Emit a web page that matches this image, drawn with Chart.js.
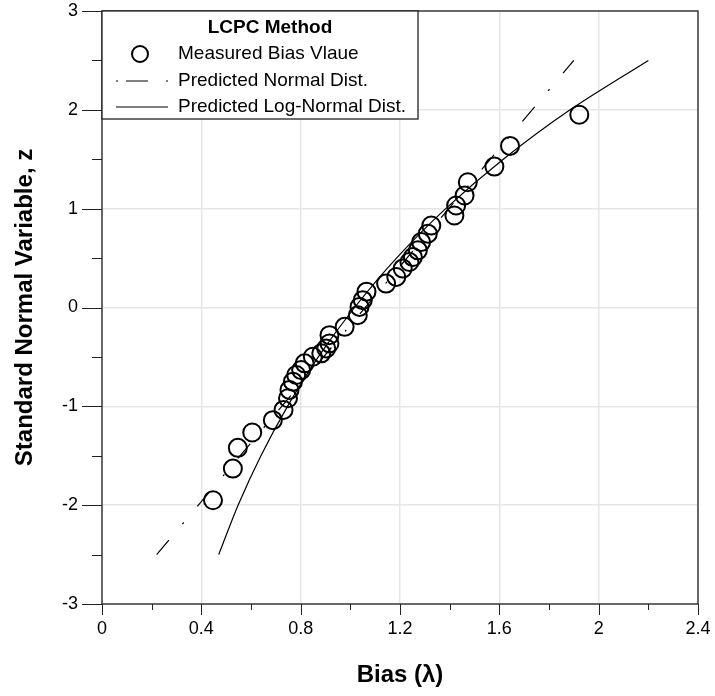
<!DOCTYPE html>
<html>
<head>
  <meta charset="utf-8">
  <title>LCPC Method - bias probability plot</title>
  <script src="https://cdn.jsdelivr.net/npm/chart.js@4.4.1/dist/chart.umd.min.js"></script>
  <style>
    html, body { margin: 0; padding: 0; background: #fff; }
    #wrap { width: 715px; height: 696px; }
  </style>
</head>
<body>
<div id="wrap"><canvas id="myChart" width="715" height="696"></canvas></div>
<script>
// measured bias values (lambda) and their standard normal variable z
const biasX = [0.447, 0.527, 0.547, 0.605, 0.688, 0.731, 0.749, 0.755, 0.769, 0.782,
  0.802, 0.816, 0.849, 0.883, 0.903, 0.916, 0.916, 0.977, 1.03, 1.037,
  1.05, 1.065, 1.144, 1.185, 1.211, 1.238, 1.252, 1.272, 1.285, 1.312,
  1.326, 1.419, 1.426, 1.46, 1.473, 1.58, 1.643, 1.922];
const biasZ = [-1.95, -1.63, -1.42, -1.265, -1.14, -1.036, -0.918, -0.834, -0.75, -0.683,
  -0.633, -0.565, -0.498, -0.464, -0.414, -0.363, -0.28, -0.196, -0.078, 0.006,
  0.074, 0.16, 0.242, 0.309, 0.394, 0.46, 0.51, 0.578, 0.662, 0.747,
  0.83, 0.931, 1.032, 1.133, 1.267, 1.426, 1.635, 1.95];

// predicted normal distribution (straight line)
const normX = [0.22, 1.9];
const normZ = [-2.5, 2.5];

// predicted log-normal distribution (curve)
const logX = [0.47, 0.548, 0.64, 0.747, 0.871, 1.017, 1.186, 1.384, 1.616, 1.885, 2.2];
const logZ = [-2.5, -2, -1.5, -1, -0.5, 0, 0.5, 1, 1.5, 2, 2.5];

const xTickLabels = ['0', '0.4', '0.8', '1.2', '1.6', '2', '2.4'];
const yTickLabels = ['-3', '-2', '-1', '0', '1', '2', '3'];

const legendTitle = 'LCPC Method';
const legendNames = ['Measured Bias Vlaue', 'Predicted Normal Dist.', 'Predicted Log-Normal Dist.'];

const FONT = "'Liberation Sans', Arial, Helvetica, sans-serif";

function pairs(xs, ys) {
  return xs.map((v, i) => ({ x: v, y: ys[i] }));
}
function isMajorX(v) { return Math.abs(v / 0.4 - Math.round(v / 0.4)) < 1e-6; }
function isMajorY(v) { return Math.abs(v - Math.round(v)) < 1e-6; }

// frame, outside tick marks (major + minor) and the boxed legend
const extras = {
  id: 'extras',
  afterDraw(chart) {
    const { ctx, chartArea: a, scales: { x, y } } = chart;
    ctx.save();
    ctx.strokeStyle = '#222';
    ctx.lineWidth = 1.3;
    ctx.strokeRect(a.left, a.top, a.right - a.left, a.bottom - a.top);

    ctx.beginPath();
    x.ticks.forEach(t => {
      const px = Math.round(x.getPixelForValue(t.value)) + 0.5;
      const len = isMajorX(t.value) ? 11 : 6;
      ctx.moveTo(px, a.bottom);
      ctx.lineTo(px, a.bottom + len);
    });
    y.ticks.forEach(t => {
      const py = Math.round(y.getPixelForValue(t.value)) + 0.5;
      const len = isMajorY(t.value) ? 20 : 10;
      ctx.moveTo(a.left, py);
      ctx.lineTo(a.left - len, py);
    });
    ctx.lineWidth = 1;
    ctx.stroke();

    // legend box
    const lx = a.left, ly = a.top, lw = 316, lh = 108;
    ctx.fillStyle = '#fff';
    ctx.fillRect(lx, ly, lw, lh);
    ctx.strokeStyle = '#222';
    ctx.lineWidth = 1.3;
    ctx.strokeRect(lx, ly, lw, lh);

    ctx.fillStyle = '#000';
    ctx.textBaseline = 'middle';
    ctx.textAlign = 'center';
    ctx.font = 'bold 19px ' + FONT;
    ctx.fillText(legendTitle, lx + 168, ly + 17);

    ctx.textAlign = 'left';
    ctx.font = '19px ' + FONT;
    const rows = [ly + 43, ly + 70, ly + 96];
    legendNames.forEach((n, i) => ctx.fillText(n, lx + 76, rows[i]));

    // symbols
    ctx.strokeStyle = '#000';
    ctx.lineWidth = 2;
    ctx.beginPath();
    ctx.arc(lx + 38, rows[0], 8, 0, Math.PI * 2);
    ctx.stroke();

    ctx.lineWidth = 1.2;
    ctx.beginPath();
    ctx.moveTo(lx + 14, rows[1]); ctx.lineTo(lx + 16, rows[1]);
    ctx.moveTo(lx + 24, rows[1]); ctx.lineTo(lx + 46, rows[1]);
    ctx.moveTo(lx + 64, rows[1]); ctx.lineTo(lx + 66, rows[1]);
    ctx.moveTo(lx + 14, rows[2]); ctx.lineTo(lx + 66, rows[2]);
    ctx.stroke();
    ctx.restore();
  }
};

const config = {
  type: 'scatter',
  data: {
    datasets: [{
      label: legendNames[0],
      data: pairs(biasX, biasZ),
      pointRadius: 9,
      pointHoverRadius: 9,
      pointBorderWidth: 2,
      borderColor: '#000',
      backgroundColor: 'rgba(0,0,0,0)',
      showLine: false
    }, {
      label: legendNames[1],
      data: pairs(normX, normZ),
      showLine: true,
      pointRadius: 0,
      borderColor: '#000',
      borderWidth: 1.2,
      borderDash: [19, 21, 2, 21]
    }, {
      label: legendNames[2],
      data: pairs(logX, logZ),
      showLine: true,
      pointRadius: 0,
      borderColor: '#000',
      borderWidth: 1.2,
      tension: 0.3
    }]
  },
  options: {
    responsive: false,
    animation: false,
    layout: { padding: { left: 0, right: 17, top: 10, bottom: 0 } },
    plugins: {
      legend: { display: false },
      tooltip: { enabled: false }
    },
    scales: {
      x: {
        type: 'linear',
        min: 0, max: 2.4,
        afterFit(scale) {
          scale.height = 92;
          scale.paddingLeft = 0;
          scale.paddingRight = 0;
        },
        border: { display: false },
        grid: {
          drawTicks: false,
          lineWidth: 1.5,
          color: c => (c.tick && isMajorX(c.tick.value)) ? '#e6e6e6' : 'rgba(0,0,0,0)'
        },
        ticks: {
          stepSize: 0.2,
          padding: 14,
          color: '#000',
          font: { family: FONT, size: 18 },
          maxRotation: 0,
          autoSkip: false,
          callback: v => isMajorX(v) ? xTickLabels[Math.round(v / 0.4)] : ''
        },
        title: {
          display: true,
          text: 'Bias (λ)',
          color: '#000',
          font: { family: FONT, size: 24, weight: 'bold' },
          padding: { top: 0, bottom: 6 }
        }
      },
      y: {
        type: 'linear',
        min: -3, max: 3,
        afterFit(scale) {
          scale.width = 102;
          scale.paddingTop = 0;
          scale.paddingBottom = 0;
        },
        border: { display: false },
        grid: {
          drawTicks: false,
          lineWidth: 1.5,
          color: c => (c.tick && isMajorY(c.tick.value)) ? '#e6e6e6' : 'rgba(0,0,0,0)'
        },
        ticks: {
          stepSize: 0.5,
          padding: 24,
          color: '#000',
          font: { family: FONT, size: 18 },
          autoSkip: false,
          callback: v => isMajorY(v) ? yTickLabels[Math.round(v) + 3] : ''
        },
        title: {
          display: true,
          text: 'Standard Normal Variable, z',
          color: '#000',
          font: { family: FONT, size: 24, weight: 'bold' },
          padding: { top: 11, bottom: 0 }
        }
      }
    }
  },
  plugins: [extras]
};

var chart = new Chart(document.getElementById('myChart'), config);
</script>
</body>
</html>
